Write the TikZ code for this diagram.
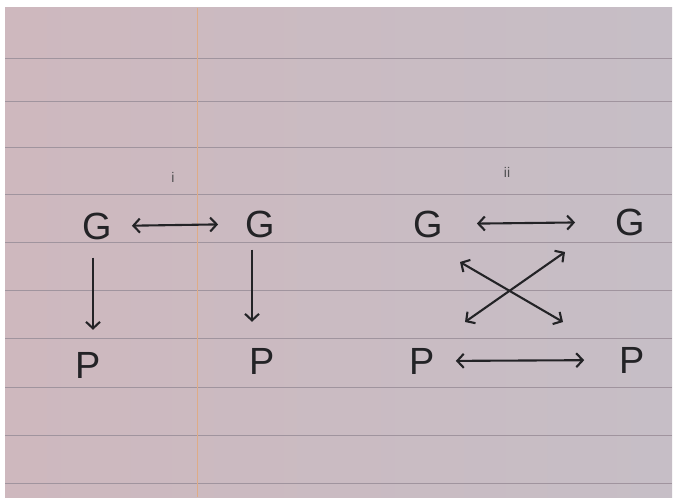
\documentclass[tikz,border=0pt]{standalone}
\usepackage{fontspec}
\setmainfont{Liberation Sans}
\usetikzlibrary{arrows.meta}
\definecolor{ink}{RGB}{35,35,38}
\definecolor{paperL}{RGB}{206,184,190}
\definecolor{paperR}{RGB}{198,190,198}
\definecolor{rulecol}{RGB}{160,148,158}
\definecolor{margincol}{RGB}{222,172,135}
\begin{document}
\begin{tikzpicture}[x=1bp,y=-1bp,
  lbl/.style={font=\fontsize{38}{38}\selectfont, text=ink, inner sep=0pt},
  numlbl/.style={font=\fontsize{14}{14}\selectfont, text=ink!80, inner sep=0pt},
  both/.style={draw=ink, line width=2.1bp, {Straight Barb[length=6.5bp,width=14bp]}-{Straight Barb[length=6.5bp,width=14bp]}},
  onedir/.style={draw=ink, line width=2.1bp, -{Straight Barb[length=6.5bp,width=14bp]}},
  rulestyle/.style={draw=rulecol, line width=1bp}
]
\useasboundingbox (0,0) rectangle (675,498);
\fill[white] (0,0) rectangle (675,498);
\shade[left color=paperL, right color=paperR] (5,8) rectangle (672,497);
\foreach \yy in {59,102,148,195,243,290,338,387,435,483}
  \draw[rulestyle] (5,\yy) -- (672,\yy);
\draw[margincol, line width=0.9bp] (197,8) -- (197,497);

% labels
\node[numlbl] (li) at (173,177) {i};
\node[numlbl] (lii) at (507,172) {ii};

% left diagram
\node[lbl] (G1) at (97,226) {G};
\node[lbl] (G2) at (260,224) {G};
\node[lbl] (P1) at (88,365) {P};
\node[lbl] (P2) at (262,361) {P};

\draw[both, shorten <=20bp, shorten >=27bp] (G1.east) -- (G2.west);
\draw[onedir, shorten <=18bp, shorten >=22bp] ([xshift=-4bp]G1.south) -- ([xshift=-4bp]G1.south |- P1.north);
\draw[onedir, shorten <=12bp, shorten >=26bp] ([xshift=-8bp]G2.south) -- ([xshift=-8bp]G2.south |- P2.north);

% right diagram
\node[lbl] (G3) at (428,224) {G};
\node[lbl] (G4) at (630,222) {G};
\node[lbl] (P3) at (422,361) {P};
\node[lbl] (P4) at (632,360) {P};

\draw[both, shorten <=34bp, shorten >=40bp] (G3.east) -- (G4.west);
\draw[both, shorten <=21bp, shorten >=35bp] (P3.east) -- (P4.west);

\coordinate (xa) at (460,262);
\coordinate (xb) at (563,322);
\coordinate (xc) at (565,252);
\coordinate (xd) at (465,322);
\draw[both] (xa) -- (xb);
\draw[both] (xd) -- (xc);
\end{tikzpicture}
\end{document}
